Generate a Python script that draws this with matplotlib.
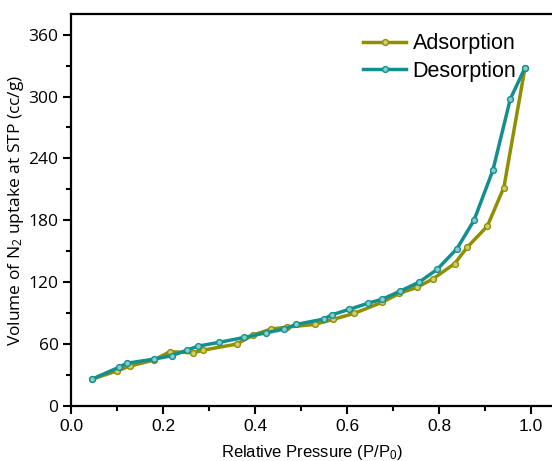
import matplotlib
matplotlib.use("Agg")
import matplotlib.pyplot as plt
from matplotlib.ticker import MultipleLocator

plt.rcParams['font.family'] = ['Liberation Sans', 'DejaVu Sans']
plt.rcParams['mathtext.default'] = 'regular'

ads_x = [0.045, 0.101, 0.128, 0.180, 0.215, 0.266, 0.288, 0.360, 0.396, 0.435,
         0.470, 0.530, 0.570, 0.616, 0.677, 0.714, 0.752, 0.786, 0.834, 0.861,
         0.905, 0.941, 0.987]
ads_y = [25.9, 34.2, 38.7, 44.5, 52.6, 51.6, 54.2, 60.0, 68.8, 74.6,
         76.5, 79.1, 84.0, 89.8, 100.7, 109.2, 115.0, 123.0, 138.0, 153.7,
         174.3, 211.8, 328.0]

des_x = [0.045, 0.104, 0.121, 0.181, 0.219, 0.252, 0.277, 0.322, 0.377, 0.424,
         0.464, 0.490, 0.550, 0.567, 0.605, 0.645, 0.677, 0.716, 0.757, 0.796,
         0.839, 0.876, 0.917, 0.955, 0.987]
des_y = [25.9, 37.5, 41.4, 45.5, 48.7, 54.2, 58.1, 61.7, 66.5, 71.0,
         74.6, 79.1, 84.3, 88.4, 93.7, 99.5, 103.6, 111.4, 120.1, 132.4,
         152.5, 179.9, 228.3, 297.6, 328.0]

x_ticks = [0.0, 0.2, 0.4, 0.6, 0.8, 1.0]
y_ticks = [0, 60, 120, 180, 240, 300, 360]

olive = '#8f8f00'
teal = '#138f8f'

fig = plt.figure(figsize=(5.52, 4.61), dpi=100)
ax = fig.add_axes([71/552, 1-406/461, 1-71/552, (406-14)/461])

ax.plot(ads_x, ads_y, '-o', color=olive, lw=2.5, ms=4.2,
        mfc='#cfcf70', mec=olive, mew=1.0, label='Adsorption', zorder=2)
ax.plot(des_x, des_y, '-o', color=teal, lw=2.5, ms=4.2,
        mfc='#86cccc', mec=teal, mew=1.0, label='Desorption', zorder=3)

ax.set_xlim(0, (552-71)/460)
ax.set_ylim(0, 380)
ax.set_xticks(x_ticks)
ax.set_xticklabels([f'{v:.1f}' for v in x_ticks])
ax.set_yticks(y_ticks)
ax.set_yticklabels([str(v) for v in y_ticks], family=['Open Sans', 'DejaVu Sans'])
ax.xaxis.set_minor_locator(MultipleLocator(0.1))
ax.yaxis.set_minor_locator(MultipleLocator(30))
ax.tick_params(which='major', direction='out', length=6, width=1.5, labelsize=12.5, pad=3)
ax.tick_params(which='minor', direction='out', length=3.5, width=1.5)

for s in ['left', 'bottom', 'top']:
    ax.spines[s].set_linewidth(1.6)
ax.spines['right'].set_visible(False)

ax.set_xlabel('Relative Pressure (P/P$_0$)', fontsize=12, labelpad=7)
ax.set_ylabel('Volume of N$_2$ uptake at STP (cc/g)', fontsize=12.5, labelpad=2,
              family=['Open Sans', 'DejaVu Sans'])

leg = ax.legend(loc='upper right', bbox_to_anchor=(0.935, 0.962), frameon=False,
                fontsize=15.5, handlelength=2.0, handletextpad=0.3, labelspacing=0.3,
                borderaxespad=0.0, borderpad=0.2)

fig.savefig('out.png', dpi=100)
